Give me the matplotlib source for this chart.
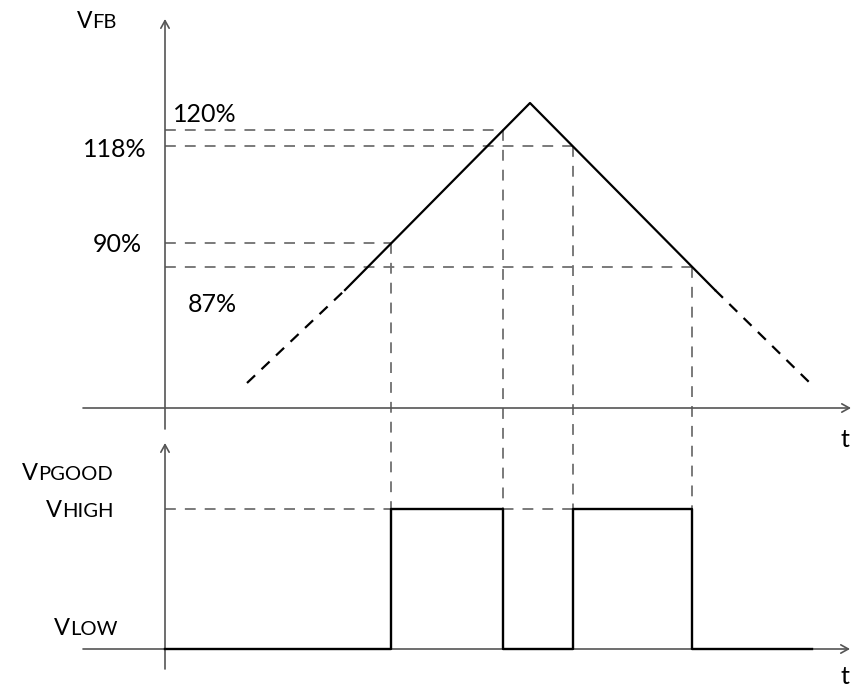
import numpy as np
import matplotlib
matplotlib.use("Agg")
import matplotlib.pyplot as plt

plt.rcParams['font.family'] = ['Lato', 'DejaVu Sans']

# VFB ramp: start of dashed part, start of solid part, peak, end of solid part, end
t_ramp = [82, 180, 365, 550, 645]
vfb_ramp = [25, 118, 305, 118, 25]

# threshold levels (diagram height above the t axis of the top panel)
level_names = ['120%', '118%', '90%', '87%']
level_v = [278, 262, 165, 141]
level_edge = ['rise', 'fall', 'rise', 'fall']

# PGOOD output
t_end = 647
pg_base = -241      # t axis of the lower panel
pg_high = 140       # VHIGH above VLOW

axis_col = '#555555'
dash_col = '#707070'
font_pct = 18

# ramp crossings of each level
rise_t, rise_v = t_ramp[1:3], vfb_ramp[1:3]
fall_t, fall_v = t_ramp[2:4][::-1], vfb_ramp[2:4][::-1]
level_t = []
for v, e in zip(level_v, level_edge):
    if e == 'rise':
        level_t.append(np.interp(v, rise_v, rise_t))
    else:
        level_t.append(np.interp(v, fall_v, fall_t))

t90, t120, t118, t87 = level_t[2], level_t[0], level_t[1], level_t[3]
pg_t = [0, t90, t90, t120, t120, t118, t118, t87, t87, t_end]
pg_state = [0, 0, 1, 1, 0, 0, 1, 1, 0, 0]
pg_y = [pg_base + s * pg_high for s in pg_state]

fig = plt.figure(figsize=(8.54, 6.92), dpi=100)
ax = fig.add_axes([0, 0, 1, 1])
ax.set_xlim(-165, 689)
ax.set_ylim(-284, 408)
ax.axis('off')


def arrow(x0, y0, x1, y1):
    ax.annotate('', xy=(x1, y1), xytext=(x0, y0),
                arrowprops=dict(arrowstyle='->,head_length=0.45,head_width=0.25',
                                color=axis_col, lw=1.2, shrinkA=0, shrinkB=0,
                                mutation_scale=12))


# axes of both panels
arrow(-82, 0, 686, 0)
arrow(0, -21, 0, 389)
arrow(-82, pg_base, 685, pg_base)
arrow(0, pg_base - 20, 0, pg_base + 206)

# dashed guides
dash = dict(color=dash_col, lw=1.3, linestyle=(0, (6, 5)), zorder=1)
for v, t in zip(level_v, level_t):
    ax.plot([0, t], [v, v], **dash)
    ax.plot([t, t], [v, pg_base + pg_high], **dash)
ax.plot([0, t118], [pg_base + pg_high] * 2, **dash)

# VFB ramp
ax.plot(t_ramp[1:4], vfb_ramp[1:4], color='black', lw=1.6, zorder=3)
ax.plot(t_ramp[0:2], vfb_ramp[0:2], color='black', lw=1.6, linestyle=(0, (5, 4)), zorder=3)
ax.plot(t_ramp[3:5], vfb_ramp[3:5], color='black', lw=1.6, linestyle=(0, (5, 4)), zorder=3)

# PGOOD
ax.plot(pg_t, pg_y, color='black', lw=1.7, zorder=3)

# level labels
pct_pos = [(8, 286), (-82, 251), (-72, 156), (23, 96)]
for name, (x, y) in zip(level_names, pct_pos):
    ax.text(x, y, name, fontsize=font_pct, ha='left', va='baseline')

# signal names: big V with smaller letters after it
def vlabel(x, y, rest, vsize=17, rsize=14.5):
    ax.text(x, y, 'V', fontsize=vsize, ha='right', va='baseline')
    ax.text(x, y, rest, fontsize=rsize, ha='left', va='baseline')


vlabel(-73, 380, 'FB', vsize=16.5, rsize=14.5)
vlabel(-127, -72, 'PGOOD')
vlabel(-103, -109, 'HIGH')
vlabel(-95, -227, 'LOW')

ax.text(680, -39, 't', fontsize=18, ha='center', va='baseline')
ax.text(680, -276, 't', fontsize=18, ha='center', va='baseline')

fig.savefig('out.png', dpi=100)
